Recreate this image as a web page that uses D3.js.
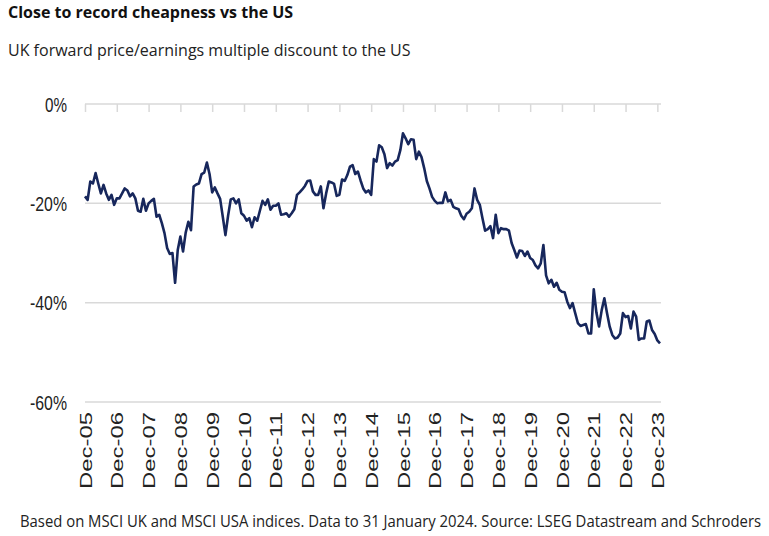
<!DOCTYPE html>
<html>
<head>
<meta charset="utf-8">
<script src="https://cdn.jsdelivr.net/npm/d3@7"></script>
<style>
  html, body { margin: 0; padding: 0; background: #ffffff; }
  svg { display: block; }
</style>
</head>
<body>
<svg id="chart" width="769" height="536"></svg>
<script>
// ---- data (monthly, Dec 2005 .. Jan 2024) ----
const titleText = "Close to record cheapness vs the US";
const subtitleText = "UK forward price/earnings multiple discount to the US";
const footerText = "Based on MSCI UK and MSCI USA indices. Data to 31 January 2024. Source: LSEG Datastream and Schroders";

const startMonth = "2005-12";
const discount = [
  -18.6, -19.3, -15.6, -16.0, -13.9, -16.0, -18.0, -16.3, -18.0, -19.3, -18.3, -20.3,
  -19.0, -19.0, -18.0, -17.0, -17.4, -18.6, -18.0, -19.0, -21.5, -21.7, -19.1, -21.5,
  -20.0, -19.5, -19.1, -22.7, -22.3, -24.0, -26.0, -29.0, -30.2, -30.0, -36.0, -29.4,
  -26.7, -29.7, -25.9, -23.7, -25.4, -16.6, -16.2, -16.0, -14.1, -13.8, -11.8, -14.1,
  -17.8, -16.8, -18.0, -19.1, -22.7, -26.4, -22.5, -19.2, -19.0, -20.0, -19.2, -22.0,
  -22.5, -23.5, -23.0, -24.8, -22.8, -23.5, -21.5, -19.5, -20.3, -19.2, -21.3, -20.5,
  -20.5, -20.0, -22.3, -22.2, -22.0, -22.7, -22.0, -21.2, -18.3, -17.8, -17.2, -16.5,
  -15.5, -15.4, -17.6, -18.3, -18.3, -16.6, -21.0, -18.0, -15.6, -15.8, -16.1, -18.5,
  -18.3, -15.2, -15.5, -14.3, -12.6, -12.3, -14.1, -13.6, -15.4, -17.0, -17.8, -17.4,
  -18.3, -11.1, -11.6, -8.3, -8.7, -10.1, -12.9, -11.9, -12.4, -11.6, -11.3, -9.3,
  -5.9, -6.9, -8.1, -7.1, -7.2, -11.1, -9.6, -10.7, -12.9, -15.5, -17.0, -18.7,
  -19.5, -20.0, -19.9, -19.9, -17.8, -19.6, -19.3, -20.7, -21.0, -21.2, -22.5, -23.2,
  -22.1, -21.7, -21.0, -17.0, -19.3, -20.3, -23.0, -25.5, -25.2, -24.6, -27.0, -22.3,
  -26.0, -25.0, -25.2, -25.2, -25.5, -28.0, -29.4, -30.9, -29.5, -29.6, -30.6, -29.7,
  -31.0, -31.4, -32.5, -33.1, -32.1, -28.4, -34.5, -36.1, -35.4, -36.8, -36.0, -37.4,
  -37.8, -37.9, -39.8, -41.1, -40.1, -42.1, -44.1, -44.7, -44.5, -44.3, -46.2, -46.2,
  -37.3, -42.0, -44.8, -41.5, -39.1, -42.1, -44.8, -46.5, -47.2, -47.0, -46.2, -42.1,
  -42.9, -42.7, -45.2, -41.8, -42.8, -47.5, -47.2, -47.2, -43.8, -43.6, -45.5, -46.3,
  -47.6, -48.2
];
const xTickLabels = ["Dec-05","Dec-06","Dec-07","Dec-08","Dec-09","Dec-10","Dec-11","Dec-12","Dec-13",
                     "Dec-14","Dec-15","Dec-16","Dec-17","Dec-18","Dec-19","Dec-20","Dec-21","Dec-22","Dec-23"];
const yTicks = [0, -20, -40, -60];
const yTickLabels = ["0%", "-20%", "-40%", "-60%"];

// ---- layout ----
const svg = d3.select("#chart");
const plotLeft = 85, plotRight = 661, plotTop = 104, plotBottom = 402;

const x = d3.scaleLinear().domain([0, discount.length - 1]).range([plotLeft, 660]);
const y = d3.scaleLinear().domain([-60, 0]).range([plotBottom, plotTop]);

// titles
svg.append("text").attr("x", 8).attr("y", 18)
  .attr("font-family", "'Open Sans', sans-serif").attr("font-weight", 700)
  .attr("font-size", 16).attr("fill", "#111").text(titleText);
svg.append("text").attr("x", 8).attr("y", 56)
  .attr("font-family", "'Open Sans', sans-serif")
  .attr("font-size", 16).attr("fill", "#222").text(subtitleText);

// gridlines
svg.append("g").selectAll("line").data(yTicks).join("line")
  .attr("x1", plotLeft).attr("x2", plotRight)
  .attr("y1", d => y(d)).attr("y2", d => y(d))
  .attr("stroke", "#d9d9d9").attr("stroke-width", 1.5);

// y labels
svg.append("g").selectAll("text").data(yTicks).join("text")
  .attr("transform", d => `translate(67,${y(d) + 7.5})`)
  .attr("text-anchor", "end")
  .attr("font-family", "'Liberation Sans', Arial, sans-serif")
  .attr("font-size", 21).attr("fill", "#222")
  .attr("textLength", (d, i) => yTickLabels[i].length === 2 ? 22 : 37)
  .attr("lengthAdjust", "spacingAndGlyphs")
  .text((d, i) => yTickLabels[i]);

// x ticks on the 0% line
const tickIdx = xTickLabels.map((_, i) => i * 12);
const tickAxis = d3.axisBottom(x).tickValues(tickIdx).tickSize(8).tickFormat("");
const gt = svg.append("g").attr("transform", `translate(0,${y(0)})`).call(tickAxis);
gt.select(".domain").remove();
gt.selectAll(".tick line").attr("stroke", "#d9d9d9").attr("stroke-width", 1.5);

// x labels (rotated)
const labelAxis = d3.axisBottom(x).tickValues(tickIdx).tickSize(0)
  .tickFormat((d, i) => xTickLabels[i]);
const gl = svg.append("g").attr("transform", `translate(0,412)`).call(labelAxis);
gl.select(".domain").remove();
gl.selectAll(".tick text")
  .attr("transform", "rotate(-90)")
  .attr("text-anchor", "end")
  .attr("x", 0).attr("y", 0).attr("dy", "0.36em").attr("dx", "0")
  .attr("font-family", "'Liberation Sans', Arial, sans-serif")
  .attr("font-size", 17).attr("fill", "#222")
  .attr("textLength", 77).attr("lengthAdjust", "spacingAndGlyphs");

// the series line
const line = d3.line().x((d, i) => x(i)).y(d => y(d)).curve(d3.curveLinear);
svg.append("path").datum(discount)
  .attr("d", line).attr("fill", "none")
  .attr("stroke", "#17275c").attr("stroke-width", 2.6)
  .attr("stroke-linejoin", "round");

// footer: horizontally condensed to span 742px
const footer = svg.append("text")
  .attr("font-family", "'Open Sans', sans-serif")
  .attr("font-size", 16.5).attr("fill", "#222")
  .text(footerText);
const natural = footer.node().getComputedTextLength();
const sx = 742 / natural;
footer.attr("transform", `translate(20,527) scale(${sx},1)`);
</script>
</body>
</html>
